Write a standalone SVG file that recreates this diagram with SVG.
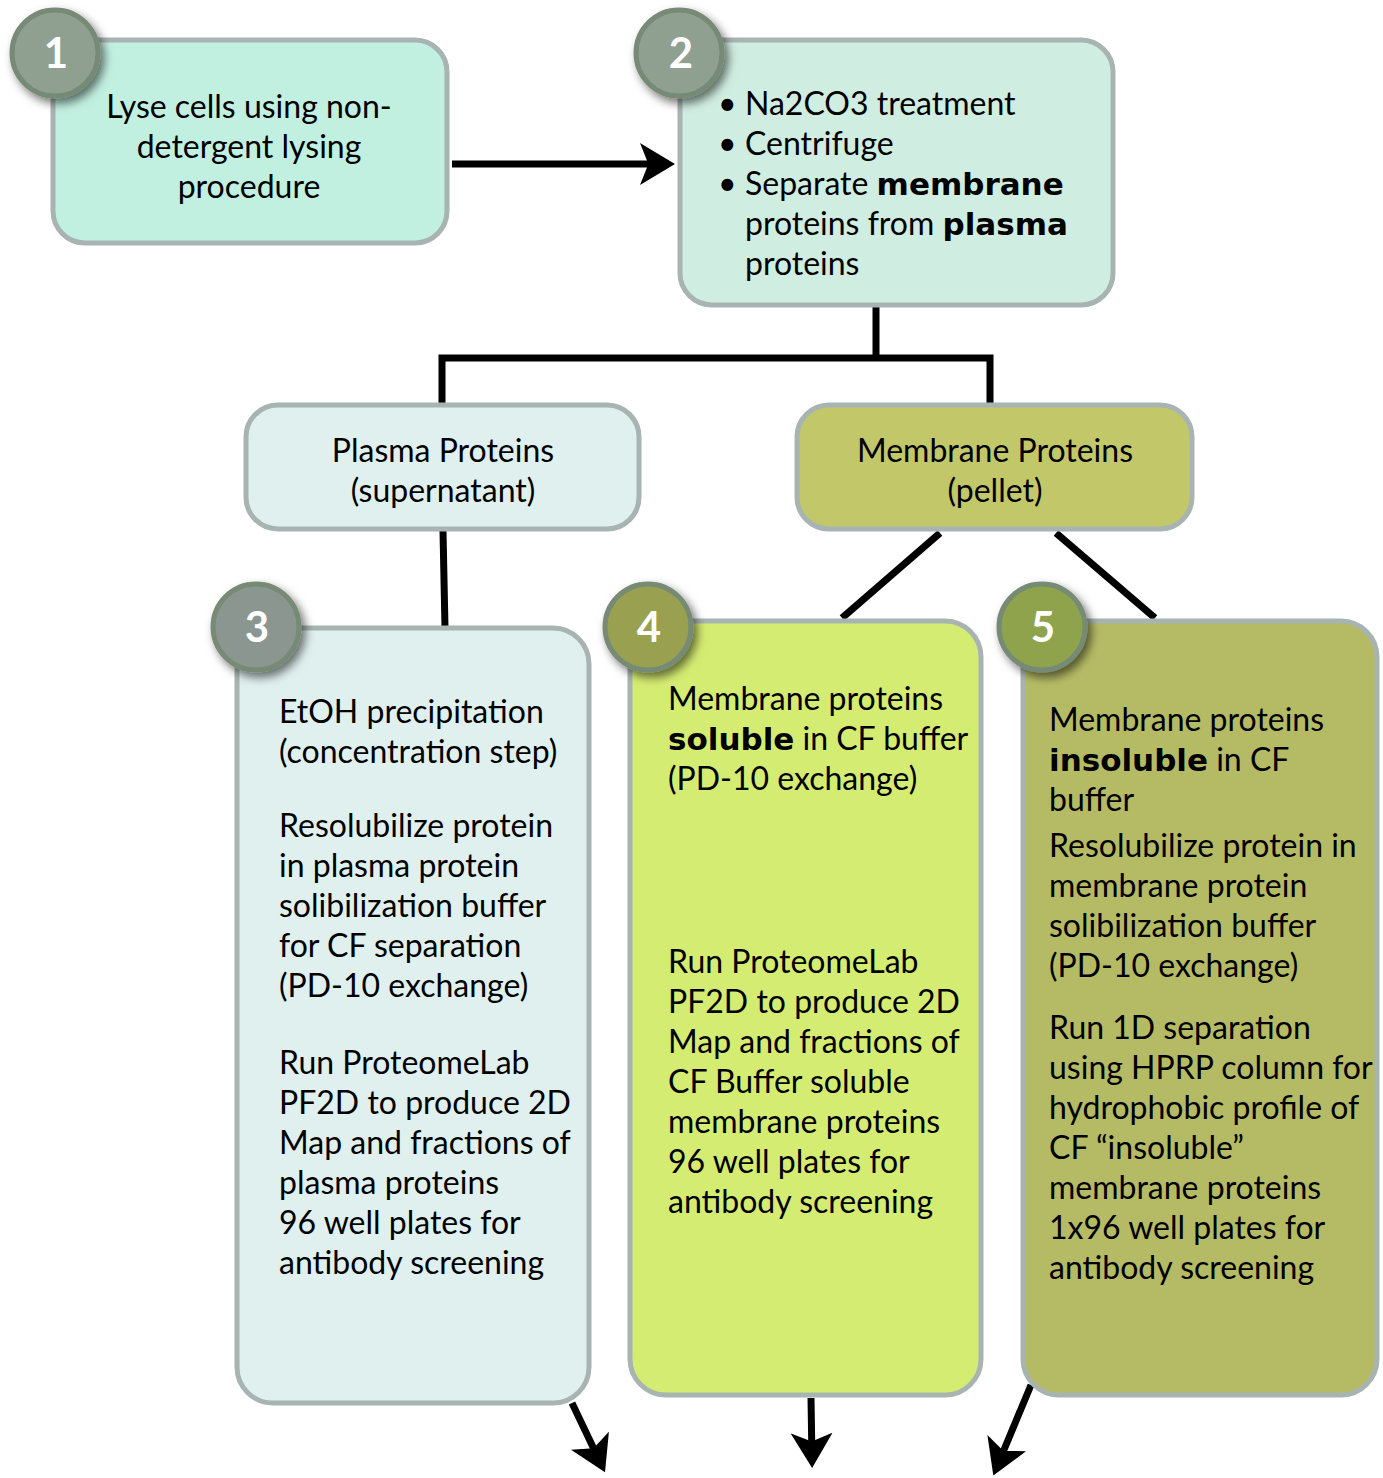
<svg xmlns="http://www.w3.org/2000/svg" width="1383" height="1478" viewBox="0 0 1383 1478">
<style>
text{font-family:Lato,"Liberation Sans",sans-serif;font-size:32px;fill:#000}
.c{text-anchor:middle}
.b{font-family:"DejaVu Sans",sans-serif;font-weight:bold;font-size:31px}
.box{stroke:#a8b4b2;stroke-width:5}
.num{stroke:#768a74;stroke-width:5}
.numt{font-size:42px;font-weight:bold;fill:#fff;text-anchor:middle}
.ln{stroke:#000;stroke-width:7;fill:none}
</style>
<defs>
<filter id="sh" x="-50%" y="-50%" width="200%" height="200%">
<feDropShadow dx="4" dy="5" stdDeviation="5" flood-color="#000" flood-opacity="0.55"/>
</filter>
<marker id="ah" markerWidth="6" markerHeight="6" refX="4" refY="3" orient="auto" markerUnits="strokeWidth">
<path d="M0,0 L5,3 L0,6 L1.2,3 Z" fill="#000"/>
</marker>
</defs>
<g id="connectors">
<line class="ln" x1="452" y1="164" x2="668" y2="164" marker-end="url(#ah)"/>
<polyline class="ln" points="876,307 876,358"/>
<polyline class="ln" points="442,405 442,358 990,358 990,405"/>
<line class="ln" x1="443" y1="531" x2="445" y2="628"/>
<line class="ln" x1="940" y1="533" x2="842" y2="618"/>
<line class="ln" x1="1056" y1="533" x2="1155" y2="618"/>
<line class="ln" x1="572" y1="1403" x2="602" y2="1466" marker-end="url(#ah)"/>
<line class="ln" x1="811" y1="1398" x2="812" y2="1461" marker-end="url(#ah)"/>
<line class="ln" x1="1031" y1="1385" x2="996" y2="1469" marker-end="url(#ah)"/>
</g>
<g id="node1">
<rect class="box" x="53" y="40" width="394" height="203" rx="32" fill="#c2f0e0"/>
<text class="c" x="249" y="118">Lyse cells using non-</text>
<text class="c" x="249" y="158">detergent lysing</text>
<text class="c" x="249" y="198">procedure</text>
<circle class="num" cx="55" cy="53" r="43" fill="#8fa090" filter="url(#sh)"/>
<text class="numt" x="56" y="68">1</text>
</g>
<g id="node2">
<rect class="box" x="680" y="40" width="433" height="265" rx="32" fill="#d0ede1"/>
<text x="718" y="115">•</text><text x="745" y="115">Na2CO3 treatment</text>
<text x="718" y="155">•</text><text x="745" y="155">Centrifuge</text>
<text x="718" y="195">•</text><text x="745" y="195">Separate <tspan class="b">membrane</tspan></text>
<text x="745" y="235">proteins from <tspan class="b">plasma</tspan></text>
<text x="745" y="275">proteins</text>
<circle class="num" cx="679" cy="53" r="43" fill="#8fa090" filter="url(#sh)"/>
<text class="numt" x="681" y="68">2</text>
</g>
<g id="plasma">
<rect class="box" x="246" y="405" width="393" height="124" rx="32" fill="#dff0ef"/>
<text class="c" x="443" y="462">Plasma Proteins</text>
<text class="c" x="443" y="502">(supernatant)</text>
</g>
<g id="membrane">
<rect class="box" x="797" y="405" width="395" height="124" rx="32" fill="#c2c86a"/>
<text class="c" x="995" y="462">Membrane Proteins</text>
<text class="c" x="995" y="502">(pellet)</text>
</g>
<g id="node3">
<rect class="box" x="237" y="628" width="352" height="775" rx="36" fill="#dff0ef"/>
<text x="279" y="723">EtOH precipitation</text>
<text x="279" y="763">(concentration step)</text>
<text x="279" y="837">Resolubilize protein</text>
<text x="279" y="877">in plasma protein</text>
<text x="279" y="917">solibilization buffer</text>
<text x="279" y="957">for CF separation</text>
<text x="279" y="997">(PD-10 exchange)</text>
<text x="279" y="1074">Run ProteomeLab</text>
<text x="279" y="1114">PF2D to produce 2D</text>
<text x="279" y="1154">Map and fractions of</text>
<text x="279" y="1194">plasma proteins</text>
<text x="279" y="1234">96 well plates for</text>
<text x="279" y="1274">antibody screening</text>
<circle class="num" cx="256" cy="627" r="43" fill="#8b9690" filter="url(#sh)"/>
<text class="numt" x="257" y="642">3</text>
</g>
<g id="node4">
<rect class="box" x="630" y="621" width="351" height="774" rx="36" fill="#d5ec72"/>
<text x="668" y="710">Membrane proteins</text>
<text x="668" y="750"><tspan class="b">soluble</tspan> in CF buffer</text>
<text x="668" y="790">(PD-10 exchange)</text>
<text x="668" y="973">Run ProteomeLab</text>
<text x="668" y="1013">PF2D to produce 2D</text>
<text x="668" y="1053">Map and fractions of</text>
<text x="668" y="1093">CF Buffer soluble</text>
<text x="668" y="1133">membrane proteins</text>
<text x="668" y="1173">96 well plates for</text>
<text x="668" y="1213">antibody screening</text>
<circle class="num" cx="648" cy="627" r="43" fill="#99a04f" filter="url(#sh)"/>
<text class="numt" x="649" y="642">4</text>
</g>
<g id="node5">
<rect class="box" x="1023" y="621" width="354" height="774" rx="36" fill="#b5bb65"/>
<text x="1049" y="731">Membrane proteins</text>
<text x="1049" y="771"><tspan class="b">insoluble</tspan> in CF</text>
<text x="1049" y="811">buffer</text>
<text x="1049" y="857">Resolubilize protein in</text>
<text x="1049" y="897">membrane protein</text>
<text x="1049" y="937">solibilization buffer</text>
<text x="1049" y="977">(PD-10 exchange)</text>
<text x="1049" y="1039">Run 1D separation</text>
<text x="1049" y="1079">using HPRP column for</text>
<text x="1049" y="1119">hydrophobic profile of</text>
<text x="1049" y="1159">CF “insoluble”</text>
<text x="1049" y="1199">membrane proteins</text>
<text x="1049" y="1239">1x96 well plates for</text>
<text x="1049" y="1279">antibody screening</text>
<circle class="num" cx="1042" cy="627" r="43" fill="#8fa34e" filter="url(#sh)"/>
<text class="numt" x="1043" y="642">5</text>
</g>
</svg>
